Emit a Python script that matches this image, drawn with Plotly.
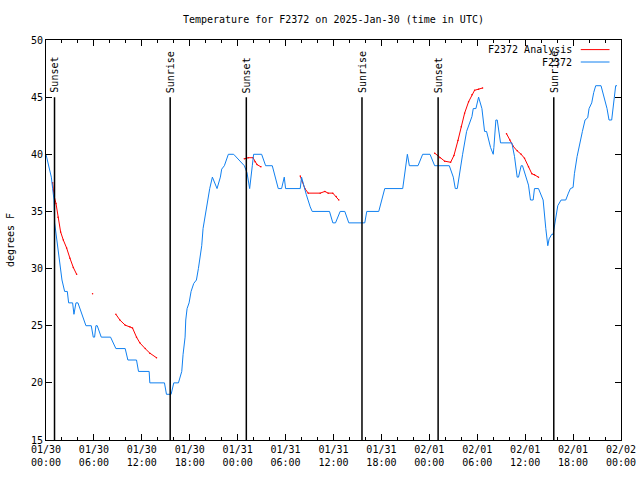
import pandas as pd
import plotly.graph_objects as go

TITLE = "Temperature for F2372 on 2025-Jan-30 (time in UTC)"
Y_TITLE = "degrees F"
SERIES_OBS = "F2372"
SERIES_ANA = "F2372 Analysis"

# Observed temperature (blue)
obs_time = [
    "01-30 00:00", "01-30 00:20", "01-30 00:40", "01-30 00:50", "01-30 01:00", "01-30 01:05",
    "01-30 01:20", "01-30 01:35", "01-30 01:45", "01-30 02:00", "01-30 02:20", "01-30 02:40",
    "01-30 02:50", "01-30 03:20", "01-30 03:30", "01-30 03:45", "01-30 04:00", "01-30 04:30",
    "01-30 05:00", "01-30 05:40", "01-30 05:55", "01-30 06:05", "01-30 06:15", "01-30 06:25",
    "01-30 06:55", "01-30 08:05", "01-30 08:45", "01-30 09:55", "01-30 10:15", "01-30 11:20",
    "01-30 11:35", "01-30 12:55", "01-30 13:00", "01-30 14:50", "01-30 15:05", "01-30 15:40",
    "01-30 16:00", "01-30 16:35", "01-30 17:00", "01-30 17:10", "01-30 17:25", "01-30 17:30",
    "01-30 17:40", "01-30 17:55", "01-30 18:10", "01-30 18:30", "01-30 18:50", "01-30 19:05",
    "01-30 19:20", "01-30 19:30", "01-30 19:40", "01-30 19:55", "01-30 20:05", "01-30 20:20",
    "01-30 20:30", "01-30 20:50", "01-30 21:05", "01-30 21:25", "01-30 21:50", "01-30 22:00",
    "01-30 22:20", "01-30 22:50", "01-30 23:30",
    "01-31 00:00", "01-31 00:50", "01-31 01:10", "01-31 01:30", "01-31 01:50", "01-31 02:00",
    "01-31 03:00", "01-31 03:30", "01-31 04:20", "01-31 04:40", "01-31 05:05", "01-31 05:30",
    "01-31 05:45", "01-31 05:50", "01-31 06:00", "01-31 07:50", "01-31 08:00", "01-31 08:10",
    "01-31 08:20", "01-31 08:35", "01-31 09:05", "01-31 09:20", "01-31 11:30", "01-31 11:55",
    "01-31 12:15", "01-31 12:50", "01-31 13:25", "01-31 13:55", "01-31 15:55", "01-31 16:10",
    "01-31 17:40", "01-31 18:25", "01-31 20:40", "01-31 21:05", "01-31 21:15", "01-31 21:30",
    "01-31 22:35", "01-31 23:10",
    "02-01 00:05", "02-01 00:40", "02-01 02:30", "02-01 03:00", "02-01 03:15", "02-01 03:30",
    "02-01 03:50", "02-01 04:10", "02-01 04:40", "02-01 05:00", "02-01 05:20", "02-01 05:30",
    "02-01 05:50", "02-01 06:10", "02-01 06:35", "02-01 06:55", "02-01 07:10", "02-01 07:40",
    "02-01 08:00", "02-01 08:05", "02-01 08:20", "02-01 08:30", "02-01 08:55", "02-01 10:20",
    "02-01 10:40", "02-01 11:00", "02-01 11:10", "02-01 11:30", "02-01 11:40", "02-01 12:25",
    "02-01 12:40", "02-01 13:00", "02-01 13:10", "02-01 13:40", "02-01 14:15", "02-01 14:35",
    "02-01 14:50", "02-01 15:00", "02-01 15:20", "02-01 15:30", "02-01 15:45", "02-01 15:55",
    "02-01 16:05", "02-01 16:30", "02-01 17:05", "02-01 17:25", "02-01 17:40", "02-01 18:00",
    "02-01 18:10", "02-01 18:30", "02-01 18:55", "02-01 19:10", "02-01 19:30", "02-01 19:50",
    "02-01 20:00", "02-01 20:20", "02-01 20:35", "02-01 20:50", "02-01 21:30", "02-01 22:15",
    "02-01 22:30", "02-01 22:50", "02-01 23:20", "02-01 23:30",
]
obs_temp = [
    40, 39, 38, 37, 36, 34,
    32.5, 31, 30, 29, 28, 28,
    27, 27, 26, 27, 27, 26,
    25, 25, 24, 24, 25, 25,
    24, 24, 23, 23, 22, 22,
    21, 21, 20, 20, 19, 19,
    20, 20, 21, 22.5, 24, 25.5,
    26.5, 27, 28, 28.7, 29, 30,
    31, 32, 33.5, 34.5, 35.5, 36.3,
    37, 38, 37.6, 37, 38, 38.7,
    39, 40, 40,
    39.6, 39, 38.4, 37, 39, 40,
    40, 39, 39, 38, 37, 37,
    38, 38, 37, 37, 38, 37.5,
    37, 36.5, 35.4, 35, 35, 34,
    34, 35, 35, 34, 34, 35,
    35, 37, 37, 39, 40, 39,
    39, 40,
    40, 39, 39, 38, 37, 37,
    38.6, 40, 42, 42.7, 43.3, 44,
    44, 45, 44, 42, 42, 40.6,
    40, 40.6, 43, 43, 41, 41,
    39.8, 38, 38, 39, 39, 37.3,
    36, 36, 37, 37, 36, 33.5,
    32, 32.6, 33, 33, 34, 35,
    35.5, 36, 36, 36.6, 37, 37.1,
    38.3, 39.8, 41, 42, 43, 43.2,
    44, 44.5, 45.4, 46, 46, 44,
    43, 43, 46, 46,
]

# Analysis temperature (red); None marks a gap
ana_time = [
    "01-30 00:50", "01-30 01:00", "01-30 01:15", "01-30 01:30", "01-30 01:50", "01-30 02:10",
    "01-30 02:35", "01-30 03:00", "01-30 03:25", "01-30 03:50", "01-30 04:50",
    "01-30 05:50", "01-30 07:00",
    "01-30 08:45", "01-30 09:15", "01-30 09:55", "01-30 10:30", "01-30 10:50", "01-30 11:20",
    "01-30 11:45", "01-30 12:25", "01-30 13:00", "01-30 13:50", "01-30 20:00",
    "01-31 00:50", "01-31 01:20", "01-31 01:55", "01-31 02:10", "01-31 02:25", "01-31 02:55",
    "01-31 05:00",
    "01-31 07:50", "01-31 08:05", "01-31 08:25", "01-31 08:50", "01-31 10:20", "01-31 10:55",
    "01-31 11:20", "01-31 11:55", "01-31 12:20", "01-31 12:40", "01-31 18:00",
    "02-01 00:40", "02-01 01:20", "02-01 01:55", "02-01 02:40", "02-01 03:05", "02-01 03:35",
    "02-01 04:00", "02-01 04:25", "02-01 04:55", "02-01 05:20", "02-01 05:40", "02-01 06:10",
    "02-01 06:40", "02-01 08:00",
    "02-01 09:40", "02-01 10:05", "02-01 10:30", "02-01 11:00", "02-01 11:30", "02-01 11:55",
    "02-01 12:25", "02-01 12:50", "02-01 13:10", "02-01 13:40",
]
ana_temp = [
    37.5, 36.4, 35.7, 34.5, 33.2, 32.5,
    31.8, 30.9, 30.1, 29.5, None,
    27.8, None,
    26.0, 25.5, 25.05, 24.9, 24.8, 24.0,
    23.5, 23.0, 22.6, 22.2, None,
    39.6, 39.7, 39.7, 39.35, 39.1, 38.9,
    None,
    38.1, 37.6, 37.0, 36.6, 36.6, 36.75,
    36.6, 36.6, 36.3, 36.0, None,
    40.1, 39.7, 39.4, 39.3, 39.9, 41.2,
    42.4, 43.6, 44.6, 45.2, 45.6, 45.7,
    45.8, None,
    41.8, 41.25, 40.7, 40.3, 40.0, 39.65,
    38.9, 38.3, 38.2, 38.0,
]

sun_labels = ["Sunset", "Sunrise", "Sunset", "Sunrise", "Sunset", "Sunrise"]
sun_times = ["01-30 01:04", "01-30 15:33", "01-31 01:05", "01-31 15:34", "02-01 01:06", "02-01 15:35"]
sun_line_top = 45

x_start, x_end = "2025-01-30 00:00", "2025-02-02 00:00"
y_min, y_max, y_step = 15, 50, 5


def ts(s):
    return pd.Timestamp("2025-" + s)


obs_x = [ts(s) for s in obs_time]
ana_x = [ts(s) for s in ana_time]

RED = "#ff0000"
BLUE = "#1080f0"
FONT = "DejaVu Sans Mono"

fig = go.Figure()
fig.add_trace(go.Scatter(x=ana_x, y=ana_temp, mode="lines+markers", name=SERIES_ANA,
                         line=dict(color=RED, width=1), marker=dict(size=1.5, color=RED),
                         connectgaps=False, showlegend=False))
fig.add_trace(go.Scatter(x=obs_x, y=obs_temp, mode="lines", name=SERIES_OBS,
                         line=dict(color=BLUE, width=1), showlegend=False))

for lab, t in zip(sun_labels, sun_times):
    fig.add_shape(type="line", x0=ts(t), x1=ts(t), y0=y_min, y1=sun_line_top,
                  xref="x", yref="y", line=dict(color="black", width=1.5))
    fig.add_annotation(x=ts(t), y=sun_line_top, xref="x", yref="y", text=lab,
                       textangle=-90, showarrow=False, xanchor="center", yanchor="bottom",
                       yshift=2, font=dict(family=FONT, size=10, color="black"))

# gnuplot-style legend: text right-aligned, sample line on the right
legend_items = [(SERIES_ANA, RED), (SERIES_OBS, BLUE)]
for i, (name, col) in enumerate(legend_items):
    yp = 0.976 - i * 0.031
    fig.add_annotation(x=0.918, y=yp, xref="paper", yref="paper", text=name,
                       showarrow=False, xanchor="right", yanchor="middle",
                       font=dict(family=FONT, size=10, color="black"))
    fig.add_shape(type="line", x0=0.930, x1=0.980, y0=yp, y1=yp, xref="paper", yref="paper",
                  line=dict(color=col, width=1))

tick_vals = pd.date_range(x_start, x_end, freq="6h")
tick_text = [f"{t:%m/%d}<br>{t:%H:%M}" for t in tick_vals]

fig.update_layout(
    width=640, height=480,
    margin=dict(l=46, r=19, t=40, b=40, autoexpand=False),
    paper_bgcolor="white", plot_bgcolor="white",
    font=dict(family=FONT, size=10, color="black"),
    title=dict(text=TITLE, x=0.521, xanchor="center", y=0.96, yanchor="middle",
               font=dict(family=FONT, size=10, color="black")),
    xaxis=dict(range=[pd.Timestamp(x_start), pd.Timestamp(x_end)], tickvals=list(tick_vals),
               ticktext=tick_text, ticks="inside", ticklen=6, tickcolor="black",
               showline=True, linecolor="black", linewidth=1, mirror="allticks",
               showgrid=False, zeroline=False, automargin=False,
               minor=dict(ticks="inside", ticklen=3, dtick=2 * 3600 * 1000, tickcolor="black",
                          showgrid=False),
               tickfont=dict(family=FONT, size=10, color="black")),
    yaxis=dict(range=[y_min, y_max], dtick=y_step, tick0=y_min, ticks="inside", ticklen=6,
               tickcolor="black", showline=True, linecolor="black", linewidth=1,
               mirror="allticks", showgrid=False, zeroline=False, automargin=False,
               title=dict(text=Y_TITLE, standoff=14, font=dict(family=FONT, size=10)),
               tickfont=dict(family=FONT, size=10, color="black")),
)

fig.write_html("out.html", config={"displayModeBar": False},
               post_script="document.body.style.margin='0px';")
